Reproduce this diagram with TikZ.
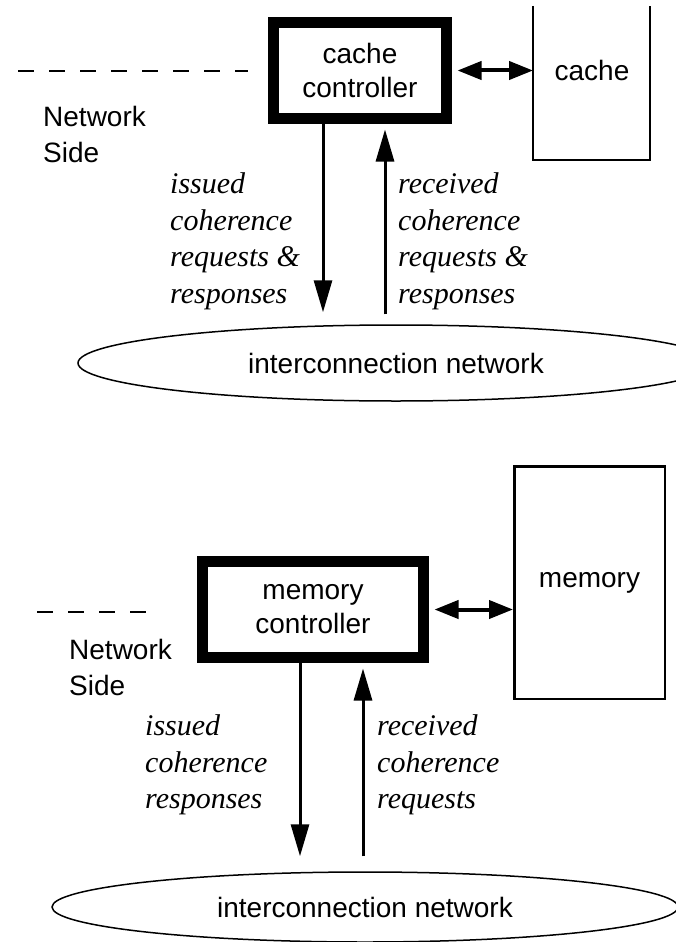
\documentclass[tikz,border=0pt]{standalone}
\usepackage{fontspec}
\setmainfont{Liberation Sans}
\newfontfamily\notefont{Liberation Serif}
\usetikzlibrary{arrows.meta,shapes.geometric}

\begin{document}
\begin{tikzpicture}[x=1pt, y=-1pt,
            ctrl/.style={draw, line width=11pt, minimum width=221pt, minimum height=96pt, align=center, font=\fontsize{28}{34}\selectfont},
            store/.style={draw, line width=2.5pt, minimum width=150.5pt, minimum height=232.5pt, font=\fontsize{28}{34}\selectfont},
            net/.style={draw, ellipse, line width=1.5pt, inner sep=0pt, font=\fontsize{28}{34}\selectfont},
            side/.style={anchor=north west, inner sep=0pt, align=left, font=\fontsize{28}{36}\selectfont},
            note/.style={anchor=north west, inner sep=0pt, align=left, font=\notefont\itshape\fontsize{30}{36.5}\selectfont},
            flow/.style={line width=3pt, -{Triangle[length=32pt,width=18pt]}},
            link/.style={line width=4pt, {Triangle[length=24pt,width=18pt]}-{Triangle[length=24pt,width=18pt]}},
            bound/.style={line width=2.5pt, dash pattern=on 16pt off 15pt}]
            \useasboundingbox (0,0) rectangle (675,942);
            \node[ctrl, minimum width=173pt] (cc) at (360,70.5) {cache\\controller};
            \node[minimum width=116.5pt, minimum height=153.75pt] (cache) at (591.5,82.9) {};
            \node[font=\fontsize{28}{34}\selectfont] (cachelbl) at (592,70) {cache};
            \draw[line width=2.5pt] (cache.north west) |- (cache.south east) -- (cache.north east);
            \draw[link, shorten <=5.5pt] (cc.east) -- (cc.east -| cache.west);
            \draw[bound] (18,71) -- (248,71);
            \node[side] (side1) at (43,106.5) {Network\\Side};
            \node[net, minimum width=636pt, minimum height=76pt] (net1) at (396,363) {interconnection network};
            \draw[flow, shorten >=12pt] ([xshift=-37pt]cc.south) -- ([xshift=-37pt]cc.south |- net1.north);
            \draw[flow, shorten <=10pt, shorten >=5.5pt] ([xshift=25pt]cc.south |- net1.north) -- ([xshift=25pt]cc.south);
            \node[note] (iss1) at (170,172.5) {issued\\coherence\\requests \&\\responses};
            \node[note] (rec1) at (398,172.5) {received\\coherence\\requests \&\\responses};
            \node[ctrl] (mc) at (313,609.5) {memory\\controller};
            \node[store] (mem) at (589.5,582.5) {memory};
            \draw[link, shorten <=5.5pt] (mc.east) -- (mc.east -| mem.west);
            \draw[bound] (37,612) -- (153,612);
            \node[side] (side2) at (69,639.5) {Network\\Side};
            \node[net, minimum width=626pt, minimum height=70pt] (net2) at (365,907) {interconnection network};
            \draw[flow, shorten >=15pt] ([xshift=-13pt]mc.south) -- ([xshift=-13pt]mc.south |- net2.north);
            \draw[flow, shorten <=15pt, shorten >=5.5pt] ([xshift=50pt]mc.south |- net2.north) -- ([xshift=50pt]mc.south);
            \node[note] (iss2) at (145,714.5) {issued\\coherence\\responses};
            \node[note] (rec2) at (377,714.5) {received\\coherence\\requests};
        \end{tikzpicture}
\end{document}
